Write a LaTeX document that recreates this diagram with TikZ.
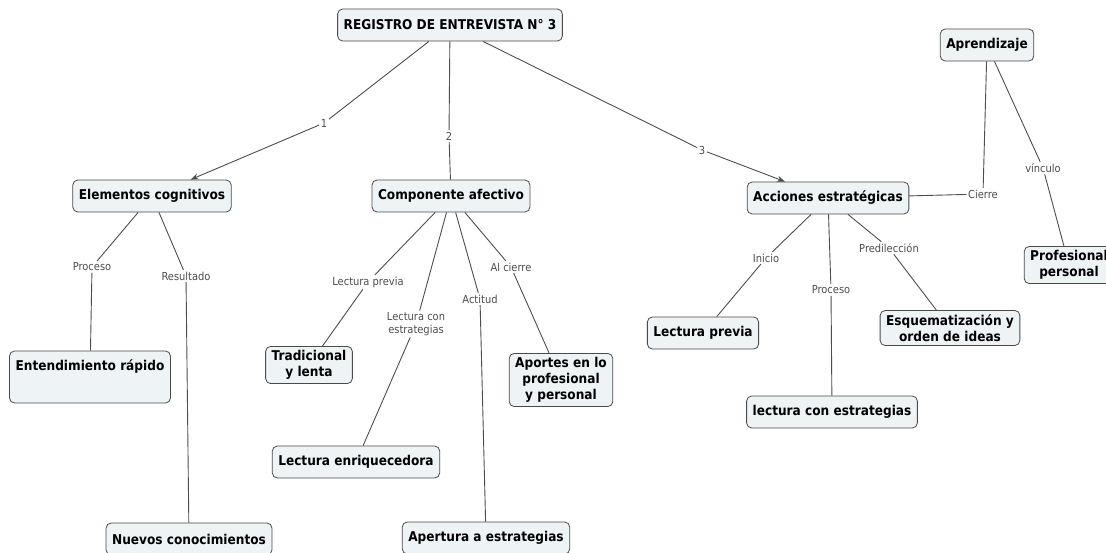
\documentclass[tikz,border=0pt]{standalone}
\usepackage{fontspec}
\setmainfont{DejaVu Sans}[FakeStretch=0.9]
\usepackage{tikz}
\usetikzlibrary{arrows.meta}
\definecolor{boxfill}{HTML}{EEF3F6}
\definecolor{boxline}{HTML}{4A4A4A}
\definecolor{linkgray}{HTML}{4D4D4D}

\begin{document}
\begin{tikzpicture}[x=1pt,y=-1pt,>={Stealth[length=8pt,width=6pt]},semithick,
    concept/.style={draw=boxline,fill=boxfill,rounded corners=5pt,line width=0.8pt,
                    font=\fontsize{13.5}{16}\selectfont\bfseries,align=center,
                    inner xsep=6pt,inner ysep=4pt,minimum height=32},
    link/.style={fill=white,inner sep=1.5pt,text=linkgray,align=center,
                 font=\fontsize{11}{13}\selectfont},
    every edge/.style={draw=linkgray,line width=0.9pt}]

  \useasboundingbox (0,0) rectangle (1106,552);

  % concepts
  \node[concept] (reg)  at (450,25)  {REGISTRO DE ENTREVISTA N° 3};
  \node[concept] (ec)   at (152,196) {Elementos cognitivos};
  \node[concept] (ca)   at (451,196) {Componente afectivo};
  \node[concept] (ae)   at (828,198) {Acciones estratégicas};
  \node[concept] (apr)  at (987,45)  {Aprendizaje};
  \node[concept] (pp)   at (1069,265) {Profesional\\personal};
  \node[concept,minimum width=161,minimum height=52] (er) at (90,377)
        {Entendimiento rápido\\[8pt]};
  \node[concept] (nc)   at (189,539) {Nuevos conocimientos};
  \node[concept] (tl)   at (309,365) {Tradicional\\y lenta};
  \node[concept] (len)  at (356,462) {Lectura enriquecedora};
  \node[concept] (aes)  at (486,538) {Apertura a estrategias};
  \node[concept] (apo)  at (561,380) {Aportes en lo\\profesional\\y personal};
  \node[concept] (lp)   at (703,333) {Lectura previa};
  \node[concept] (lce)  at (832,412) {lectura con estrategias};
  \node[concept] (esq)  at (950,328) {Esquematización y\\orden de ideas};

  % linking phrases
  \node[link] (l1)    at (324,123) {1};
  \node[link] (l2)    at (449,136) {2};
  \node[link] (l3)    at (702,150) {3};
  \node[link] (proc1) at (92,267)  {Proceso};
  \node[link] (res)   at (186,276) {Resultado};
  \node[link] (lprev) at (368,282) {Lectura previa};
  \node[link] (lcon)  at (416,324) {Lectura con\\estrategias};
  \node[link] (act)   at (480,299) {Actitud};
  \node[link] (alc)   at (511,267) {Al cierre};
  \node[link] (ini)   at (766,258) {Inicio};
  \node[link] (proc2) at (831,290) {Proceso};
  \node[link] (pred)  at (889,248) {Predilección};
  \node[link] (cie)   at (983,194) {Cierre};
  \node[link] (vin)   at (1043,168) {vínculo};

  \path (reg) edge (l1)  (l1) edge[->] (ec)
        (reg) edge (l2)  (l2) edge (ca)
        (reg) edge (l3)  (l3) edge[->] (ae)
        (ec) edge (proc1) (proc1) edge (er)
        (ec) edge (res)   (res) edge (nc)
        (ca) edge (lprev) (lprev) edge (tl)
        (ca) edge (lcon)  (lcon) edge (len)
        (ca) edge (act)   (act) edge (aes)
        (ca) edge (alc)   (alc) edge (apo)
        (ae) edge (ini)   (ini) edge (lp)
        (ae) edge (proc2) (proc2) edge (lce)
        (ae) edge (pred)  (pred) edge (esq)
        (ae) edge (cie)   (cie) edge (apr)
        (apr) edge (vin)  (vin) edge (pp)
        ;

\end{tikzpicture}
\end{document}
